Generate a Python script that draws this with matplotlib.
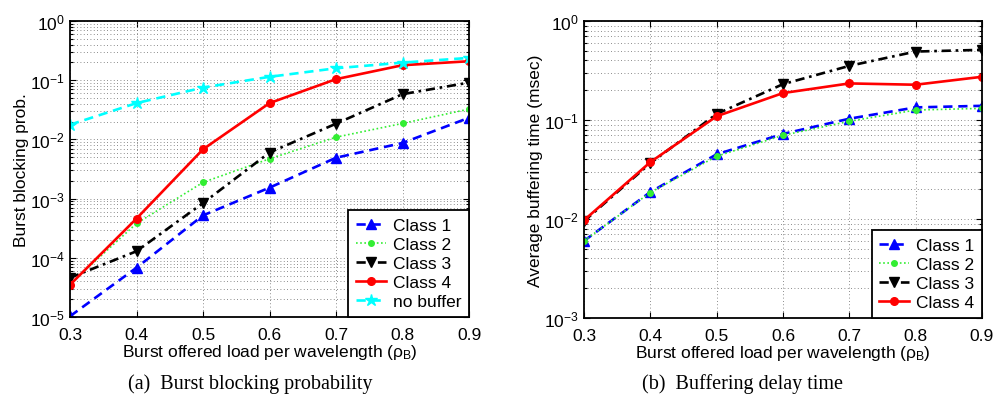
import matplotlib
matplotlib.use("Agg")
import matplotlib.pyplot as plt
from matplotlib.ticker import LogLocator, NullFormatter

plt.rcParams["font.family"] = ["Liberation Sans", "DejaVu Sans"]
plt.rcParams["mathtext.fontset"] = "custom"
plt.rcParams["mathtext.rm"] = "Liberation Sans"
plt.rcParams["mathtext.it"] = "Liberation Sans"

# offered load per wavelength
load = [0.3, 0.4, 0.5, 0.6, 0.7, 0.8, 0.9]

# (a) burst blocking probability
block_c1 = [1.03e-5, 6.8e-5, 5.2e-4, 1.53e-3, 4.9e-3, 8.7e-3, 0.0232]
block_c2 = [3.6e-5, 3.8e-4, 1.88e-3, 4.7e-3, 0.0109, 0.0186, 0.0325]
block_c3 = [4.6e-5, 1.29e-4, 8.4e-4, 6.0e-3, 0.0184, 0.058, 0.091]
block_c4 = [3.5e-5, 4.6e-4, 6.8e-3, 0.041, 0.104, 0.179, 0.209]
block_nobuf = [0.0177, 0.041, 0.075, 0.114, 0.159, 0.198, 0.238]

# (b) average buffering time (msec)
delay_c1 = [0.0060, 0.0187, 0.045, 0.0723, 0.103, 0.134, 0.139]
delay_c2 = [0.0060, 0.0185, 0.043, 0.070, 0.097, 0.126, 0.131]
delay_c3 = [0.0095, 0.0366, 0.115, 0.230, 0.352, 0.491, 0.511]
delay_c4 = [0.0097, 0.0375, 0.109, 0.187, 0.234, 0.227, 0.273]

styles = {
    "Class 1": dict(color="#0000ff", ls=(0, (3.5, 2.2)), marker="^", ms=6.5),
    "Class 2": dict(color="#33ee33", ls=(0, (1, 1.5)), marker=".", ms=8, lw=1.2),
    "Class 3": dict(color="black", ls=(0, (3.5, 1.8, 1, 1.8)), marker="v", ms=6.5),
    "Class 4": dict(color="#ff0000", ls="-", marker="o", ms=5.5),
    "no buffer": dict(color="#00ffff", ls=(0, (3.5, 2.2)), marker="*", ms=9),
}

fig = plt.figure(figsize=(9.96, 4.10), dpi=100)
ax1 = fig.add_axes([0.0703, 0.2244, 0.4006, 0.7220])
ax2 = fig.add_axes([0.5863, 0.222, 0.3996, 0.7244])


def draw(ax, series):
    for name, y in series:
        st = dict(lw=1.9)
        st.update(styles[name])
        ax.plot(load, y, label=name, mec=st["color"], mfc=st["color"], **st)


draw(ax1, [("Class 1", block_c1), ("Class 2", block_c2), ("Class 3", block_c3),
           ("Class 4", block_c4), ("no buffer", block_nobuf)])
draw(ax2, [("Class 1", delay_c1), ("Class 2", delay_c2), ("Class 3", delay_c3),
           ("Class 4", delay_c4)])

for ax, ylo in [(ax1, 1e-5), (ax2, 1e-3)]:
    ax.set_yscale("log")
    ax.set_xlim(0.3, 0.9)
    ax.set_ylim(ylo, 1)
    ax.set_xticks(load)
    ax.set_xticklabels([f"{v:.1f}" for v in load])
    ax.yaxis.set_major_locator(LogLocator(base=10, numticks=10))
    ax.yaxis.set_minor_locator(LogLocator(base=10, subs=range(2, 10), numticks=20))
    ax.yaxis.set_minor_formatter(NullFormatter())
    ax.tick_params(which="both", direction="in", top=True, right=True,
                   labelsize=12.5, width=0.8)
    ax.tick_params(axis="x", pad=7)
    ax.tick_params(which="major", length=4)
    ax.tick_params(which="minor", length=2)
    ax.grid(True, which="major", ls=(0, (1, 3)), color="#666666", lw=0.6)
    ax.grid(True, which="minor", axis="y", ls=(0, (1, 3)), color="#666666", lw=0.6)
    ax.set_xlabel(r"Burst offered load per wavelength ($\rho_{\rm B}$)", fontsize=12.5, labelpad=0)
    for s in ax.spines.values():
        s.set_linewidth(1.3)
    leg = ax.legend(loc="lower right", fontsize=12.5, frameon=True, fancybox=False,
                    edgecolor="black", framealpha=1, borderaxespad=0.0,
                    handlelength=1.7, handletextpad=0.4, labelspacing=0.22,
                    borderpad=0.45)
    leg.get_frame().set_linewidth(1.3)

ax1.set_ylabel("Burst blocking prob.", fontsize=12.5, labelpad=1)
ax2.set_ylabel("Average buffering time (msec)", fontsize=12.5, labelpad=1)

fig.text(0.251, 0.063, "(a)  Burst blocking probability", fontsize=14.5,
         family="Liberation Serif", ha="center", va="center")
fig.text(0.745, 0.063, "(b)  Buffering delay time", fontsize=14.5,
         family="Liberation Serif", ha="center", va="center")

fig.savefig("out.png", dpi=100)
